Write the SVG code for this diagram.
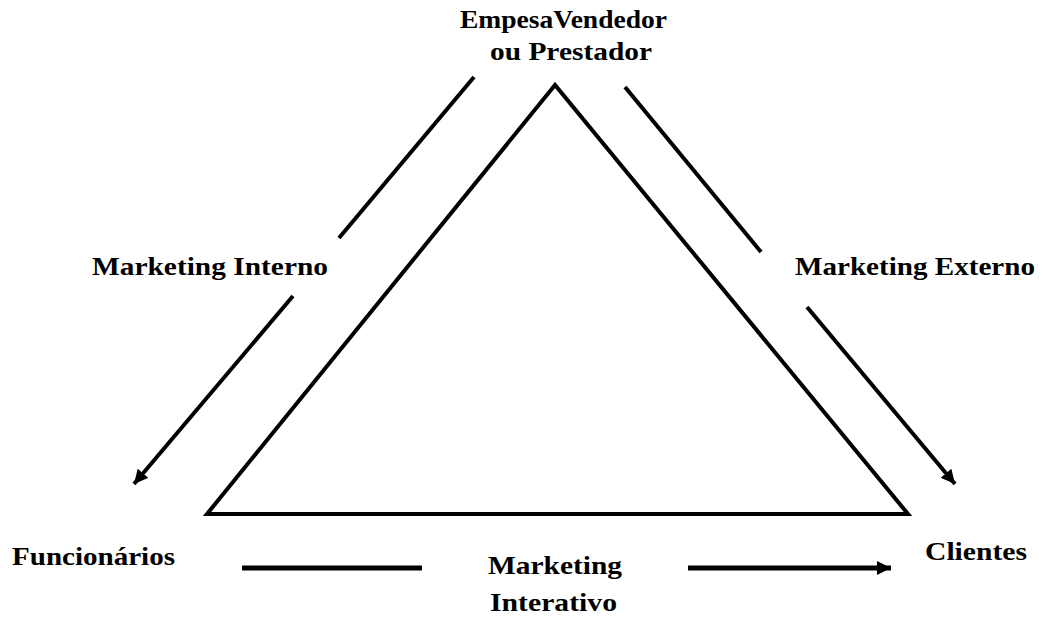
<svg xmlns="http://www.w3.org/2000/svg" width="1043" height="617" viewBox="0 0 1043 617">
<style>
.t{font-family:"Liberation Serif","Times New Roman",serif;font-weight:bold;font-size:25px;fill:#000}
.ln{stroke:#000;stroke-width:4;fill:none}
.lb{stroke:#000;stroke-width:5;fill:none}
</style>
<defs>
<marker id="ah" markerUnits="userSpaceOnUse" markerWidth="18" markerHeight="16" refX="14" refY="7" orient="auto">
<path d="M0,0 L14,7 L0,14 Z" fill="#000"/>
</marker>
</defs>
<rect width="1043" height="617" fill="#fff"/>
<g id="triangle">
<polygon points="555,85 207,514 908,514" class="ln" stroke-linejoin="miter"/>
</g>
<g id="connectors">
<line x1="474" y1="77" x2="339" y2="238" class="ln"/>
<line x1="293" y1="296" x2="134" y2="484" class="ln" marker-end="url(#ah)"/>
<line x1="625" y1="87" x2="761" y2="252" class="ln"/>
<line x1="807" y1="307" x2="955" y2="484" class="ln" marker-end="url(#ah)"/>
<line x1="242" y1="568" x2="422" y2="568" class="lb"/>
<line x1="688" y1="568" x2="891" y2="568" class="lb" marker-end="url(#ah)"/>
</g>
<g id="node-empresa">
<text class="t" x="460" y="28" textLength="207" lengthAdjust="spacingAndGlyphs">EmpesaVendedor</text>
<text class="t" x="490" y="60" textLength="162" lengthAdjust="spacingAndGlyphs">ou Prestador</text>
</g>
<g id="label-interno">
<text class="t" x="92" y="275" textLength="236" lengthAdjust="spacingAndGlyphs">Marketing Interno</text>
</g>
<g id="label-externo">
<text class="t" x="795" y="275" textLength="240" lengthAdjust="spacingAndGlyphs">Marketing Externo</text>
</g>
<g id="node-funcionarios">
<text class="t" x="12" y="565" textLength="163" lengthAdjust="spacingAndGlyphs">Funcionários</text>
</g>
<g id="label-interativo">
<text class="t" x="488" y="574" textLength="134" lengthAdjust="spacingAndGlyphs">Marketing</text>
<text class="t" x="490" y="611" textLength="127" lengthAdjust="spacingAndGlyphs">Interativo</text>
</g>
<g id="node-clientes">
<text class="t" x="925" y="560" textLength="102" lengthAdjust="spacingAndGlyphs">Clientes</text>
</g>
</svg>
